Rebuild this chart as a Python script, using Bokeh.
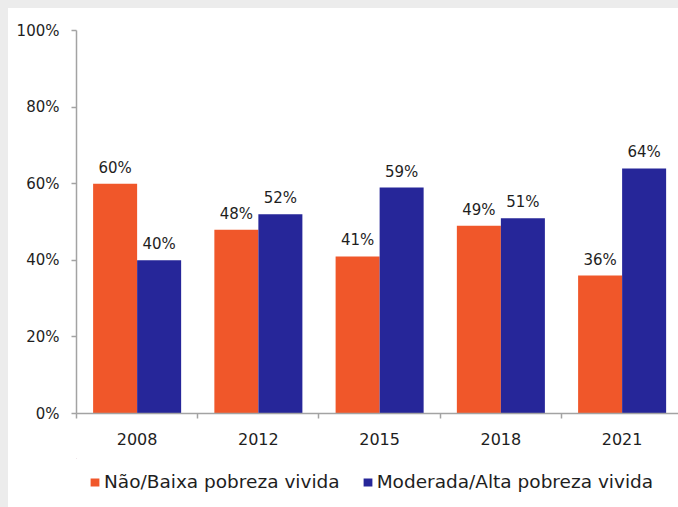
from bokeh.plotting import figure
from bokeh.layouts import column
from bokeh.models import ColumnDataSource, FixedTicker, Legend, LegendItem, Range1d
from bokeh.core.properties import value
from bokeh.embed import file_html
from bokeh.resources import INLINE

# ---- data ----
years = ["2008", "2012", "2015", "2018", "2021"]
baixa = [60, 48, 41, 49, 36]
alta = [40, 52, 59, 51, 64]
series_names = ["Não/Baixa pobreza vivida", "Moderada/Alta pobreza vivida"]
colors = ["#F0572A", "#262699"]
y_ticks = [0, 20, 40, 60, 80, 100]

# ---- layout helpers ----
FONT = "DejaVu Sans"
TXT = "#1e1e1e"
AX = "#a3a3a3"
bw = 0.363
centers = [i + 0.5 for i in range(len(years))]
x_b = [c - bw / 2 for c in centers]
x_a = [c + bw / 2 for c in centers]

src_b = ColumnDataSource(dict(x=x_b, top=baixa, lab=[f"{v}%" for v in baixa]))
src_a = ColumnDataSource(dict(x=x_a, top=alta, lab=[f"{v}%" for v in alta]))

p = figure(width=670, height=450, output_backend="svg", toolbar_location=None,
           x_range=Range1d(0, 4.965), y_range=Range1d(0, 100),
           min_border_left=68, min_border_right=0, min_border_top=22, min_border_bottom=45,
           styles={"background-color": "white"})
p.outline_line_color = None
p.background_fill_color = "white"
p.border_fill_color = "white"
p.xgrid.visible = False
p.ygrid.visible = False

r1 = p.vbar(x="x", top="top", width=bw, source=src_b, fill_color=colors[0], line_color=None)
r2 = p.vbar(x="x", top="top", width=bw, source=src_a, fill_color=colors[1], line_color=None)

for src in (src_b, src_a):
    p.text(x="x", y="top", text="lab", source=src, text_align="center",
           text_baseline="alphabetic", y_offset=-16, text_font=value(FONT),
           text_font_size="15px", text_color=TXT)

# x axis
xa = p.xaxis[0]
xa.ticker = FixedTicker(ticks=centers, minor_ticks=[0, 1, 2, 3, 4, 5])
xa.major_label_overrides = {c: y for c, y in zip(centers, years)}
xa.major_tick_in = 0
xa.major_tick_out = 0
xa.minor_tick_in = 0
xa.minor_tick_out = 5
xa.minor_tick_line_color = AX
xa.minor_tick_line_width = 1.5
xa.axis_line_color = AX
xa.axis_line_width = 1.5
xa.major_label_standoff = 14
xa.major_label_text_font = FONT
xa.major_label_text_font_size = "16px"
xa.major_label_text_color = TXT

# y axis
ya = p.yaxis[0]
ya.ticker = FixedTicker(ticks=y_ticks, minor_ticks=[])
ya.major_label_overrides = {v: f"{v}%" for v in y_ticks}
ya.major_tick_in = 0
ya.major_tick_out = 5
ya.major_tick_line_color = AX
ya.major_tick_line_width = 1.5
ya.axis_line_color = AX
ya.axis_line_width = 1.5
ya.major_label_standoff = 12
ya.major_label_text_font = FONT
ya.major_label_text_font_size = "15px"
ya.major_label_text_color = TXT

# ---- legend strip (separate figure below the chart) ----
lg = figure(width=670, height=49, output_backend="svg", toolbar_location=None,
            x_range=Range1d(0, 1), y_range=Range1d(0, 1),
            min_border_left=68, min_border_right=0, min_border_top=0, min_border_bottom=0,
            styles={"background-color": "white"})
lg.outline_line_color = None
lg.axis.visible = False
lg.grid.visible = False
lg.background_fill_color = "white"
lg.border_fill_color = "white"
# proxy renderers (one bar far outside the view) so the legend can draw its swatches
l1 = lg.vbar(x=[-20], bottom=[20], top=[21], width=0.1, fill_color=colors[0], line_color=None)
l2 = lg.vbar(x=[-20], bottom=[20], top=[21], width=0.1, fill_color=colors[1], line_color=None)

legend = Legend(items=[LegendItem(label=series_names[0], renderers=[l1]),
                       LegendItem(label=series_names[1], renderers=[l2])],
                orientation="horizontal", location=(13, 15),
                glyph_width=11, glyph_height=10, label_standoff=4, spacing=22,
                padding=0, margin=0, border_line_color=None,
                background_fill_alpha=0,
                label_text_font=FONT, label_text_font_size="18.5px",
                label_text_color=TXT)
lg.add_layout(legend, "center")

layout = column(p, lg, spacing=0, styles={"background-color": "white"})

html = file_html(layout, INLINE)
html = html.replace("</head>", "<style>html,body{background:#ececec;overflow:hidden;}body{padding:8px 0 0 8px !important;}</style></head>", 1)
open("out.html", "w").write(html)
